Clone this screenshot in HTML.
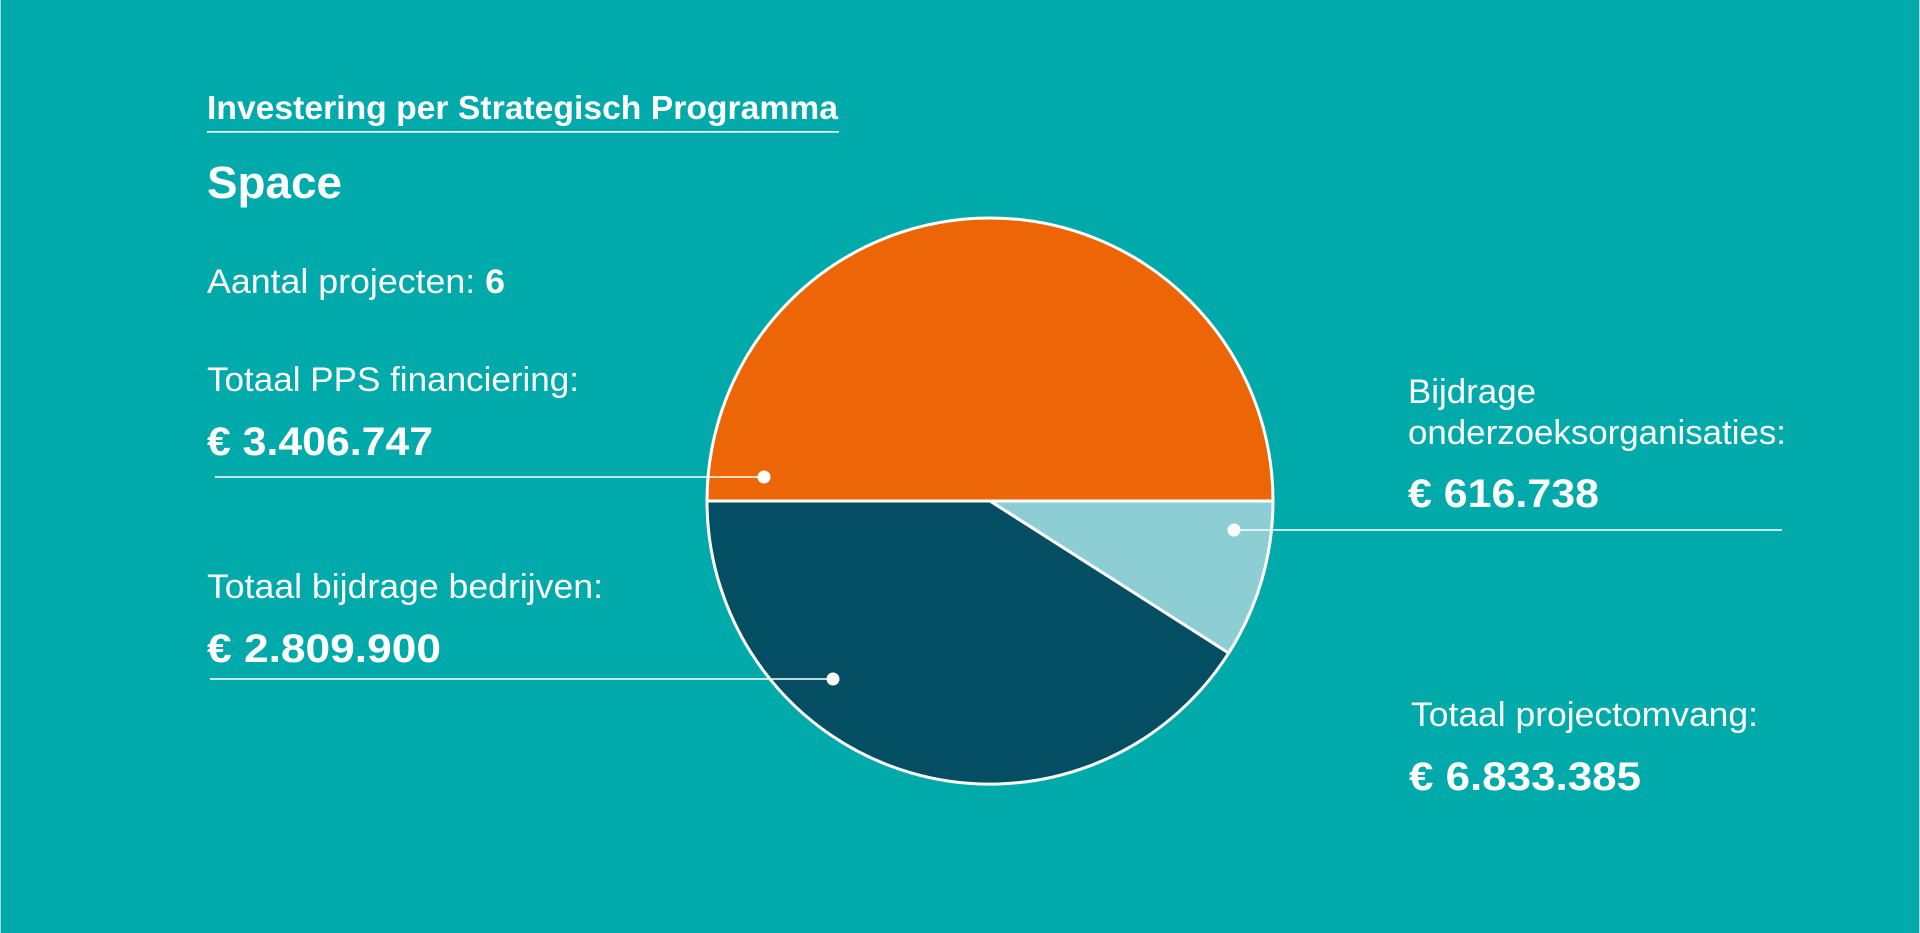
<!DOCTYPE html>
<html>
<head>
<meta charset="utf-8">
<style>
  html, body { margin: 0; padding: 0; width: 1920px; height: 933px; overflow: hidden; background: #00AAAB; }
  svg { display: block; }
  text { font-family: "Liberation Sans", "DejaVu Sans", sans-serif; fill: #ffffff; }
  .reg { font-size: 34px; font-weight: 400; }
  .num { font-size: 40px; font-weight: 700; }
</style>
</head>
<body>
<svg width="1920" height="933" viewBox="0 0 1920 933" xmlns="http://www.w3.org/2000/svg">
  <rect x="0" y="0" width="1920" height="933" fill="#00AAAB"/>
  <rect x="0" y="0" width="1" height="933" fill="#A8DCDC"/>
  <rect x="1919" y="0" width="1" height="933" fill="#A8DCDC"/>

  <!-- Header -->
  <text x="207" y="119" font-size="33" font-weight="700" textLength="631" lengthAdjust="spacingAndGlyphs">Investering per Strategisch Programma</text>
  <rect x="207" y="131" width="632" height="1.6" fill="#ffffff"/>
  <text x="207" y="198" font-size="45" font-weight="700" textLength="135" lengthAdjust="spacingAndGlyphs">Space</text>

  <text x="207" y="293" class="reg" textLength="298" lengthAdjust="spacingAndGlyphs">Aantal projecten: <tspan font-weight="700">6</tspan></text>

  <text x="207" y="391" class="reg" textLength="372" lengthAdjust="spacingAndGlyphs">Totaal PPS financiering:</text>
  <text x="207" y="455" class="num" textLength="226" lengthAdjust="spacingAndGlyphs">€ 3.406.747</text>

  <text x="207" y="598" class="reg" textLength="396" lengthAdjust="spacingAndGlyphs">Totaal bijdrage bedrijven:</text>
  <text x="207" y="662" class="num" textLength="234" lengthAdjust="spacingAndGlyphs">€ 2.809.900</text>

  <text x="1408" y="403" class="reg" textLength="128" lengthAdjust="spacingAndGlyphs">Bijdrage</text>
  <text x="1408" y="444" class="reg" textLength="378" lengthAdjust="spacingAndGlyphs">onderzoeksorganisaties:</text>
  <text x="1408" y="507" class="num" textLength="191" lengthAdjust="spacingAndGlyphs">€ 616.738</text>

  <text x="1411" y="726" class="reg" textLength="347" lengthAdjust="spacingAndGlyphs">Totaal projectomvang:</text>
  <text x="1409" y="790" class="num" textLength="232" lengthAdjust="spacingAndGlyphs">€ 6.833.385</text>

  <!-- Pie -->
  <g stroke="#ffffff" stroke-width="3" stroke-linejoin="round">
    <path d="M990,501 L707,501 A283,283 0 0 1 1273,501 Z" fill="#EC6608"/>
    <path d="M990,501 L1273,501 A283,283 0 0 1 1228.7,653.1 Z" fill="#8DCDD4"/>
    <path d="M990,501 L1228.7,653.1 A283,283 0 0 1 707,501 Z" fill="#034E62"/>
  </g>

  <!-- Leader lines -->
  <g stroke="#ffffff" stroke-width="1.6">
    <line x1="215" y1="477" x2="764" y2="477"/>
    <line x1="210" y1="679" x2="833" y2="679"/>
    <line x1="1234" y1="530" x2="1782" y2="530"/>
  </g>
  <g fill="#ffffff">
    <circle cx="764" cy="477" r="6.5"/>
    <circle cx="833" cy="679" r="6.5"/>
    <circle cx="1234" cy="530" r="6.5"/>
  </g>
</svg>
</body>
</html>
